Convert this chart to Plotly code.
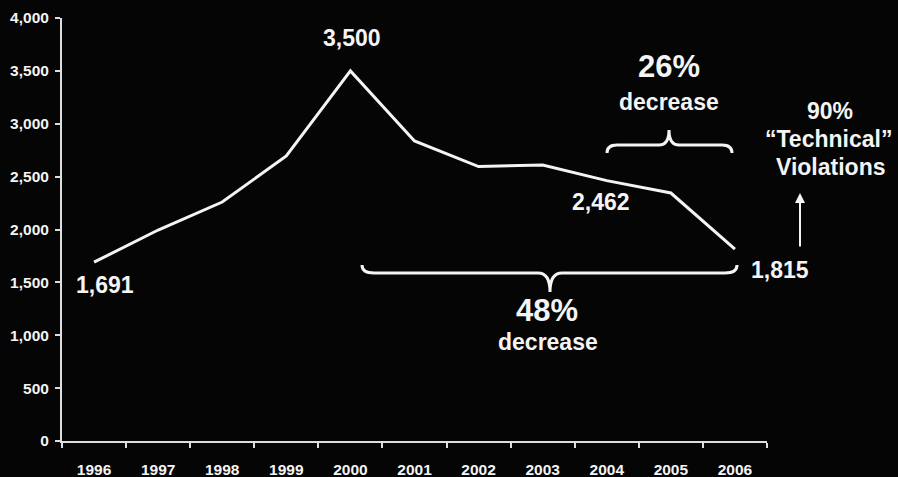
import plotly.graph_objects as go

# ---- data ----
years = ["1996", "1997", "1998", "1999", "2000", "2001", "2002", "2003", "2004", "2005", "2006"]
violations = [1691, 1995, 2260, 2695, 3500, 2837, 2595, 2610, 2462, 2345, 1815]
labeled_years = ["1996", "2000", "2004", "2006"]
y_ticks = [0, 500, 1000, 1500, 2000, 2500, 3000, 3500, 4000]

W, H = 898, 477
L, R, T, B = 62, 767, 18, 441  # plot area in pixels
FONT = "Liberation Sans, Arial, Helvetica, sans-serif"
WHITE = "#f4f4f4"
BG = "#050505"

xpos = list(range(len(years)))


def xp(px):
    return (px - L) / (R - L)


def yp(py):
    return (B - py) / (B - T)


def brace_path(x0, x1, y_end, y_bar, xm, y_tip, r=10):
    pts = [
        ("M", [(x0, y_end)]),
        ("Q", [(x0, y_bar), (x0 + r, y_bar)]),
        ("L", [(xm - r, y_bar)]),
        ("Q", [(xm, y_bar), (xm, y_tip)]),
        ("Q", [(xm, y_bar), (xm + r, y_bar)]),
        ("L", [(x1 - r, y_bar)]),
        ("Q", [(x1, y_bar), (x1, y_end)]),
    ]
    s = ""
    for cmd, coords in pts:
        s += cmd + " " + " ".join(f"{xp(a):.5f},{yp(b):.5f}" for a, b in coords) + " "
    return s.strip()


fig = go.Figure()
fig.add_trace(go.Scatter(
    x=xpos, y=violations, mode="lines",
    line=dict(color=WHITE, width=3),
    hoverinfo="skip", showlegend=False,
))

# value labels anchored to data points
label_shift = {"1996": (11, -23), "2000": (2, 33), "2004": (-6, -21), "2006": (45, -21)}
for yr in labeled_years:
    i = years.index(yr)
    dx, dy = label_shift[yr]
    fig.add_annotation(
        x=xpos[i], y=violations[i], text=f"{violations[i]:,}", showarrow=False,
        xanchor="center", yanchor="middle", xshift=dx, yshift=dy,
        font=dict(family=FONT, size=23, color=WHITE, weight="bold"),
    )

texts = [
    ("26%", 669, 66, 31),
    ("decrease", 669, 102, 23),
    ("48%", 547, 310, 31),
    ("decrease", 548, 342, 23),
    ("90%", 830, 111, 23),
    ("\u201cTechnical\u201d", 828, 139, 23),
    ("Violations", 831, 167, 23),
]
for t, px, py, sz in texts:
    fig.add_annotation(
        x=xp(px), y=yp(py), xref="paper", yref="paper", text=t, showarrow=False,
        xanchor="center", yanchor="middle",
        font=dict(family=FONT, size=sz, color=WHITE, weight="bold"),
    )

# arrow
fig.add_annotation(
    x=xp(800), y=yp(193), xref="paper", yref="paper", text="",
    showarrow=True, ax=0, ay=55, arrowhead=2, arrowsize=1, arrowwidth=2,
    arrowcolor=WHITE,
)

# braces
fig.add_shape(type="path", xref="paper", yref="paper",
              path=brace_path(607, 732, 153, 145, 669, 130, r=10),
              line=dict(color=WHITE, width=3))
fig.add_shape(type="path", xref="paper", yref="paper",
              path=brace_path(362, 737, 265, 273, 550, 292, r=12),
              line=dict(color=WHITE, width=3))

fig.update_layout(
    width=W, height=H,
    margin=dict(l=L, r=W - R, t=T, b=H - B),
    paper_bgcolor=BG, plot_bgcolor=BG,
    showlegend=False,
    xaxis=dict(
        range=[-0.5, len(years) - 0.5], tickmode="array", tickvals=xpos, ticktext=years,
        ticks="", showgrid=False, zeroline=False, showline=True, automargin=False,
        linecolor="#dddddd", linewidth=2,
        tickfont=dict(family=FONT, size=15.5, color=WHITE, weight="bold"),
        ticklabelstandoff=13,
        minor=dict(tickmode="array", tickvals=[v - 0.5 for v in range(len(years) + 1)],
                   ticks="outside", ticklen=5, tickwidth=2, tickcolor="#dddddd", showgrid=False),
    ),
    yaxis=dict(
        range=[0, 4000], tickmode="array", tickvals=y_ticks, tickformat=",",
        ticks="outside", ticklen=5, tickwidth=2, tickcolor="#dddddd",
        showgrid=False, zeroline=False, showline=True, automargin=False,
        linecolor="#dddddd", linewidth=2,
        tickfont=dict(family=FONT, size=15.5, color=WHITE, weight="bold"),
        ticklabelstandoff=3,
    ),
)

fig.write_html("out.html")
